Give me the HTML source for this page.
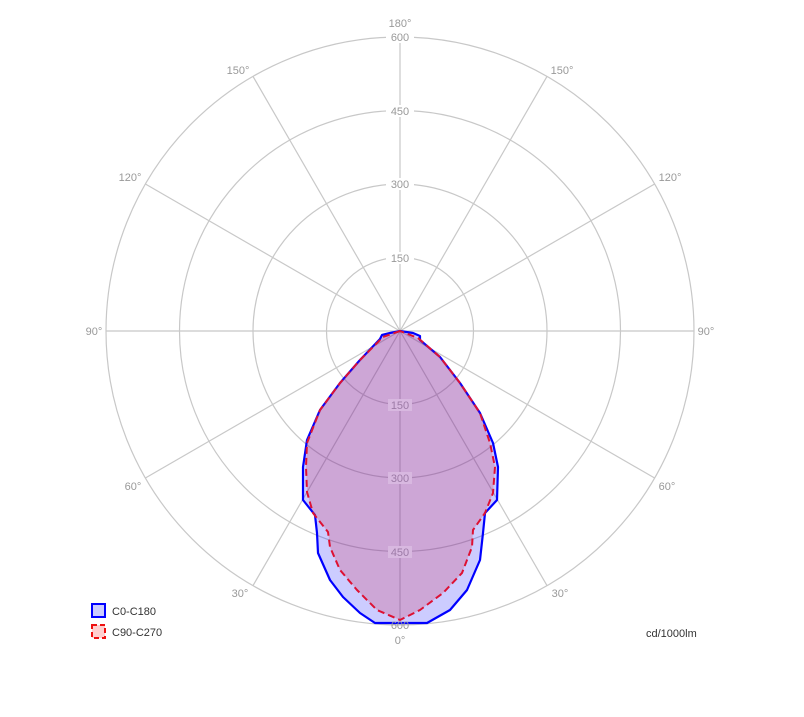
<!DOCTYPE html>
<html><head><meta charset="utf-8"><style>body{margin:0;background:#fff}svg{display:block;font-family:"Liberation Sans",sans-serif}</style></head>
<body>
<svg width="804" height="717" viewBox="0 0 804 717">
<g fill="none" stroke="#c8c8c8" stroke-width="1.2">
<circle cx="400" cy="331" r="73.5"/><circle cx="400" cy="331" r="147"/><circle cx="400" cy="331" r="220.5"/><circle cx="400" cy="331" r="294"/>
<line x1="400" y1="37" x2="400" y2="625"/>
<line x1="106" y1="331" x2="694" y2="331"/>
<line x1="253" y1="76.4" x2="547" y2="585.6"/>
<line x1="547" y1="76.4" x2="253" y2="585.6"/>
<line x1="145.4" y1="184" x2="654.6" y2="478"/>
<line x1="654.6" y1="184" x2="145.4" y2="478"/>
</g>
<polygon fill="rgba(0,0,255,0.2)" stroke="#0000ff" stroke-width="2.2" stroke-linejoin="round" points="400,331 390,333 382,335 380,339 360,360 340,383 320,410 307,440 303,467 303,500 315,515 317,533 318,553 330,580 343,597 360,613 375,623 400,623 427,623 450,610 467,590 480,560 483,533 485,513 497,500 498,467 493,443 480,413 460,383 440,357 420,340 420,336 413,333"/>
<polygon fill="rgba(208,52,92,0.25)" stroke="#dd1133" stroke-width="2" stroke-dasharray="7,4" stroke-linejoin="round" points="400,331 383,337 360,360 340,383 320,410 307,443 306,467 307,492 313,513 328,532 330,547 340,570 357,590 377,610 400,620 420,610 443,593 462,573 472,547 473,530 485,513 493,493 495,467 490,443 480,413 460,383 440,357 418,338"/>
<g font-size="11" fill="#999" text-anchor="middle">
<g fill="#999">
<rect x="386" y="31" width="28" height="12" fill="#fff"/><text x="400" y="41">600</text>
<rect x="386" y="105" width="28" height="12" fill="#fff"/><text x="400" y="115">450</text>
<rect x="386" y="178" width="28" height="12" fill="#fff"/><text x="400" y="188">300</text>
<rect x="386" y="252" width="28" height="12" fill="#fff"/><text x="400" y="262">150</text>
</g>
<g fill="#b08ab8">
<rect x="388" y="399" width="24" height="12" fill="#d8b8e0"/><text x="400" y="409" fill="#9c7aa6">150</text>
<rect x="388" y="472" width="24" height="12" fill="#d8b8e0"/><text x="400" y="482" fill="#9c7aa6">300</text>
<rect x="388" y="546" width="24" height="12" fill="#d8b8e0"/><text x="400" y="556" fill="#9c7aa6">450</text>
</g>
<text x="400" y="629">600</text>
<text x="400" y="27">180°</text>
<text x="400" y="644">0°</text>
<text x="94" y="335">90°</text>
<text x="706" y="335">90°</text>
<text x="238" y="74">150°</text>
<text x="562" y="74">150°</text>
<text x="130" y="181">120°</text>
<text x="670" y="181">120°</text>
<text x="133" y="490">60°</text>
<text x="667" y="490">60°</text>
<text x="240" y="597">30°</text>
<text x="560" y="597">30°</text>
</g>
<rect x="92" y="604" width="13" height="13" fill="#ccccff" stroke="#0000ff" stroke-width="2"/>
<rect x="92" y="625" width="13" height="13" fill="#ffd0d0" stroke="#ee1111" stroke-width="2" stroke-dasharray="5,3"/>
<g font-size="11" fill="#333">
<text x="112" y="615">C0-C180</text>
<text x="112" y="636">C90-C270</text>
<text x="646" y="637">cd/1000lm</text>
</g>
</svg>
</body></html>
